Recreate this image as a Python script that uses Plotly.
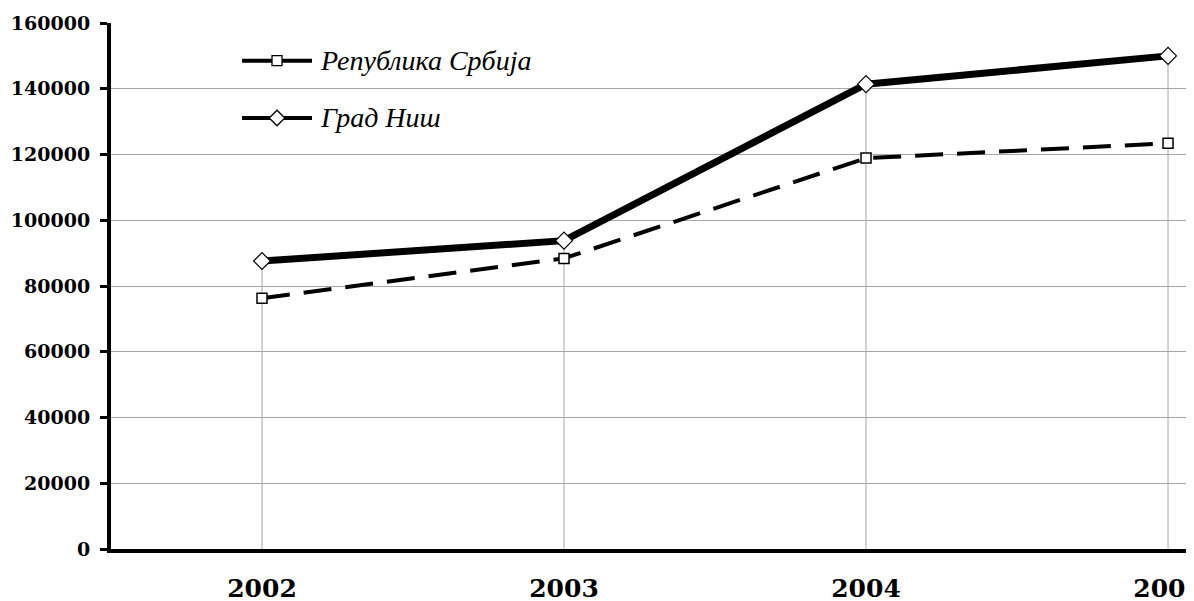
import plotly.graph_objects as go

years = ["2002", "2003", "2004", "2005"]
srbija = [76300, 88400, 118900, 123400]
nis = [87600, 93800, 141400, 150000]
name_srbija = "Република Србија"
name_nis = "Град Ниш"
y_ticks = [0, 20000, 40000, 60000, 80000, 100000, 120000, 140000, 160000]

fig = go.Figure()

# drop lines from the highest value to the axis
dx, dy = [], []
for yr, a, b in zip(years, srbija, nis):
    dx += [yr, yr, None]
    dy += [0, max(a, b), None]
fig.add_trace(go.Scatter(x=dx, y=dy, mode="lines", line=dict(color="#a6a6a6", width=1),
                         hoverinfo="skip", showlegend=False, connectgaps=False))

fig.add_trace(go.Scatter(x=years, y=srbija, mode="lines+markers", name=name_srbija,
                         line=dict(color="black", width=4, dash="28px,14px"),
                         marker=dict(symbol="square", size=10, color="white",
                                     line=dict(color="black", width=1.5)),
                         showlegend=False, cliponaxis=False))
fig.add_trace(go.Scatter(x=years, y=nis, mode="lines+markers", name=name_nis,
                         line=dict(color="black", width=7),
                         marker=dict(symbol="diamond", size=13, color="white",
                                     line=dict(color="black", width=1.2)),
                         showlegend=False, cliponaxis=False))

# manual legend on an overlay axis in [0,1] coordinates
leg = [(name_srbija, "square", 10, 0.9283), (name_nis, "diamond", 12, 0.8194)]
for name, sym, sz, ly in leg:
    fig.add_trace(go.Scatter(x=[0.121, 0.1856], y=[ly, ly], mode="lines",
                             line=dict(color="black", width=4), xaxis="x2", yaxis="y2",
                             showlegend=False, hoverinfo="skip"))
    fig.add_trace(go.Scatter(x=[0.1533], y=[ly], mode="markers",
                             marker=dict(symbol=sym, size=sz, color="white",
                                         line=dict(color="black", width=1.3)),
                             xaxis="x2", yaxis="y2", showlegend=False, hoverinfo="skip"))
    fig.add_annotation(x=0.1911, y=ly, xref="paper", yref="paper", text=name,
                       showarrow=False, xanchor="left", yanchor="middle",
                       font=dict(family="Liberation Serif", size=28, color="black", style="italic"))

fig.update_layout(
    width=1186, height=593,
    margin=dict(l=103, r=0, t=15, b=52),
    paper_bgcolor="white", plot_bgcolor="white",
    showlegend=False,
    xaxis=dict(type="category", range=[-0.5, 3.086], showgrid=False, zeroline=False,
               showline=True, linecolor="black", linewidth=4, ticks="",
               ticklabelstandoff=14, automargin=False,
               tickfont=dict(family="DejaVu Serif", size=25, color="black", weight="bold")),
    yaxis=dict(range=[0, 160000], tickvals=y_ticks, ticktext=[str(v) for v in y_ticks],
               showgrid=True, gridcolor="#a6a6a6", gridwidth=1, zeroline=False,
               showline=True, linecolor="black", linewidth=4,
               ticks="outside", ticklen=7, tickwidth=3, tickcolor="black",
               ticklabelstandoff=6, automargin=False,
               tickfont=dict(family="DejaVu Serif", size=19, color="black", weight="bold")),
    xaxis2=dict(overlaying="x", range=[0, 1], visible=False, domain=[0, 1]),
    yaxis2=dict(overlaying="y", range=[0, 1], visible=False, domain=[0, 1]),
)

fig.write_html("out.html")
